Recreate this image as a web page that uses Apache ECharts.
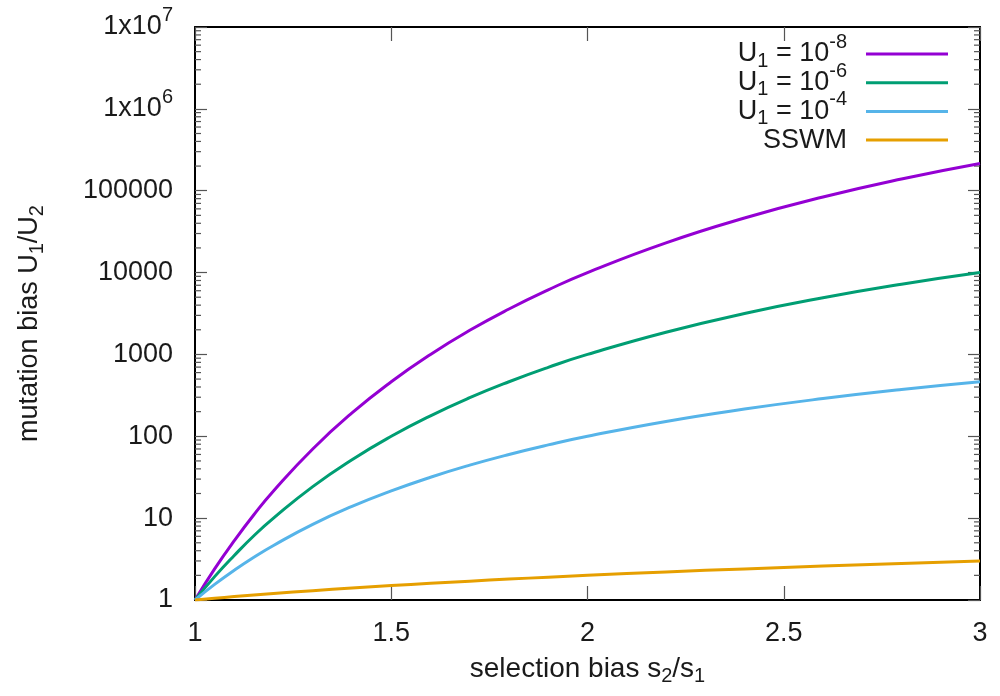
<!DOCTYPE html>
<html>
<head>
<meta charset="utf-8">
<script src="https://cdn.jsdelivr.net/npm/echarts@6/dist/echarts.min.js"></script>
<style>
html,body{margin:0;padding:0;background:#fff;}
#chart{width:1000px;height:696px;}
</style>
</head>
<body>
<div id="chart"></div>
<script>
// selection bias s2/s1 (x)
const xs = [1, 1.05, 1.1, 1.15, 1.2, 1.3, 1.4, 1.5, 1.6, 1.7, 1.8, 1.9, 2.0, 2.2, 2.4, 2.6, 2.8, 3.0];
// mutation bias U1/U2
const u1e8 = [1, 2.4, 5.3, 11, 21.5, 70, 193, 464, 1000, 1970, 3590, 6150, 10000, 23100, 46400, 83800, 139000, 215000];
const u1e6 = [1, 1.93, 3.5, 6.1, 10, 24.3, 51.8, 100, 178, 296, 464, 695, 1000, 1870, 3160, 4920, 7200, 10000];
const u1e4 = [1, 1.55, 2.31, 3.33, 4.64, 8.4, 13.9, 21.5, 31.6, 44.4, 60, 78.5, 100, 152, 215, 289, 373, 464];
const sswm = [1, 1.05, 1.1, 1.15, 1.2, 1.3, 1.4, 1.5, 1.6, 1.7, 1.8, 1.9, 2.0, 2.2, 2.4, 2.6, 2.8, 3.0];

const seriesNames = ['U1 = 1e-8', 'U1 = 1e-6', 'U1 = 1e-4', 'SSWM'];
const legendLabels = {
  'U1 = 1e-8': 'U{sub|1} = 10{sup|-8}',
  'U1 = 1e-6': 'U{sub|1} = 10{sup|-6}',
  'U1 = 1e-4': 'U{sub|1} = 10{sup|-4}',
  'SSWM': '{sub|\u200B}SSWM{sup|\u200B}'
};
const colors = ['#9400d3', '#009e73', '#56b4e9', '#e69f00'];
const xTicks = {min: 1, max: 3, interval: 0.5};
const yRange = {min: 1, max: 1e7};

const FONT = '"Liberation Sans", Arial, Helvetica, sans-serif';
const TXT = '#1a1a1a';
const richSupSub = {
  sup: {fontSize: 20, height: 5, lineHeight: 5, verticalAlign: 'top', fontFamily: FONT, color: TXT},
  sub: {fontSize: 20, height: 14, lineHeight: 14, verticalAlign: 'bottom', fontFamily: FONT, color: TXT}
};

function pair(ys) { return xs.map((x, i) => [x, ys[i]]); }

// minor tick positions for the log axis (2..9 in every decade)
const minorTicks = [];
for (let k = 0; k < 7; k++) {
  for (let m = 2; m <= 9; m++) minorTicks.push([1, m * Math.pow(10, k)]);
}

const chart = echarts.init(document.getElementById('chart'), null, {renderer: 'canvas'});
const tickStyle = {color: '#555', width: 1.2};
const lineStyleAxis = {color: '#000', width: 2};

const option = {
  backgroundColor: '#fff',
  animation: false,
  textStyle: {fontFamily: FONT},
  grid: {left: 195, right: 20, top: 27, bottom: 96, containLabel: false, outerBoundsMode: 'none'},
  legend: {
    orient: 'vertical',
    align: 'right',
    right: 52,
    top: 32.5,
    padding: 0,
    itemGap: -9.8,
    itemWidth: 82,
    itemHeight: 3,
    icon: 'rect',
    data: seriesNames,
    formatter: name => legendLabels[name],
    textStyle: {
      fontSize: 27, lineHeight: 28, color: TXT, fontFamily: FONT,
      padding: [0, 14, 0, 0],
      rich: richSupSub
    }
  },
  xAxis: [{
    type: 'value', position: 'bottom',
    min: xTicks.min, max: xTicks.max, interval: xTicks.interval,
    name: 'selection bias s{sub|2}/s{sub|1}',
    nameLocation: 'middle', nameGap: 55,
    nameTextStyle: {fontSize: 28, lineHeight: 28, color: TXT, fontFamily: FONT, rich: richSupSub},
    axisLine: {show: true, lineStyle: lineStyleAxis},
    axisTick: {show: true, inside: true, length: 14, lineStyle: tickStyle},
    axisLabel: {fontSize: 27, color: TXT, margin: 20, fontFamily: FONT},
    splitLine: {show: false}
  }, {
    type: 'value', position: 'top',
    min: xTicks.min, max: xTicks.max, interval: xTicks.interval,
    axisLine: {show: true, lineStyle: lineStyleAxis},
    axisTick: {show: true, inside: true, length: 14, lineStyle: tickStyle},
    axisLabel: {show: false},
    splitLine: {show: false}
  }],
  yAxis: [{
    type: 'log', logBase: 10, position: 'left',
    min: yRange.min, max: yRange.max, splitNumber: 7,
    name: 'mutation bias U{sub|1}/U{sub|2}',
    nameLocation: 'middle', nameGap: 151, nameRotate: 90,
    nameTextStyle: {fontSize: 27, lineHeight: 28, color: TXT, fontFamily: FONT, padding: [0, 20, 0, 0], rich: richSupSub},
    axisLine: {show: true, lineStyle: lineStyleAxis},
    axisTick: {show: true, inside: true, length: 12, lineStyle: tickStyle},
    axisLabel: {
      fontSize: 27, lineHeight: 28, color: TXT, margin: 22, fontFamily: FONT,
      formatter: function (v) {
        const e = Math.round(Math.log10(v));
        if (e >= 6) return '1x10{sup|' + e + '}';
        return String(Math.round(v));
      },
      rich: richSupSub
    },
    splitLine: {show: false}
  }, {
    type: 'log', logBase: 10, position: 'right',
    min: yRange.min, max: yRange.max, splitNumber: 7,
    axisLine: {show: true, lineStyle: lineStyleAxis},
    axisTick: {show: true, inside: true, length: 12, lineStyle: tickStyle},
    axisLabel: {show: false},
    splitLine: {show: false}
  }],
  series: [
    {name: seriesNames[0], type: 'line', data: pair(u1e8), smooth: true, showSymbol: false, lineStyle: {width: 3, color: colors[0]}, itemStyle: {color: colors[0]}, z: 5},
    {name: seriesNames[1], type: 'line', data: pair(u1e6), smooth: true, showSymbol: false, lineStyle: {width: 3, color: colors[1]}, itemStyle: {color: colors[1]}, z: 5},
    {name: seriesNames[2], type: 'line', data: pair(u1e4), smooth: true, showSymbol: false, lineStyle: {width: 3, color: colors[2]}, itemStyle: {color: colors[2]}, z: 5},
    {name: seriesNames[3], type: 'line', data: pair(sswm), smooth: true, showSymbol: false, lineStyle: {width: 3, color: colors[3]}, itemStyle: {color: colors[3]}, z: 5},
    {
      type: 'custom', silent: true, clip: false, z: 1,
      data: minorTicks,
      encode: {x: 0, y: 1},
      renderItem: function (params, api) {
        const v = api.value(1);
        const pl = api.coord([xTicks.min, v]);
        const pr = api.coord([xTicks.max, v]);
        return {
          type: 'group',
          children: [
            {type: 'line', shape: {x1: pl[0], y1: pl[1], x2: pl[0] + 6, y2: pl[1]}, style: {stroke: '#555', lineWidth: 1.2}},
            {type: 'line', shape: {x1: pr[0], y1: pr[1], x2: pr[0] - 6, y2: pr[1]}, style: {stroke: '#555', lineWidth: 1.2}}
          ]
        };
      }
    }
  ]
};
chart.setOption(option);
</script>
</body>
</html>
